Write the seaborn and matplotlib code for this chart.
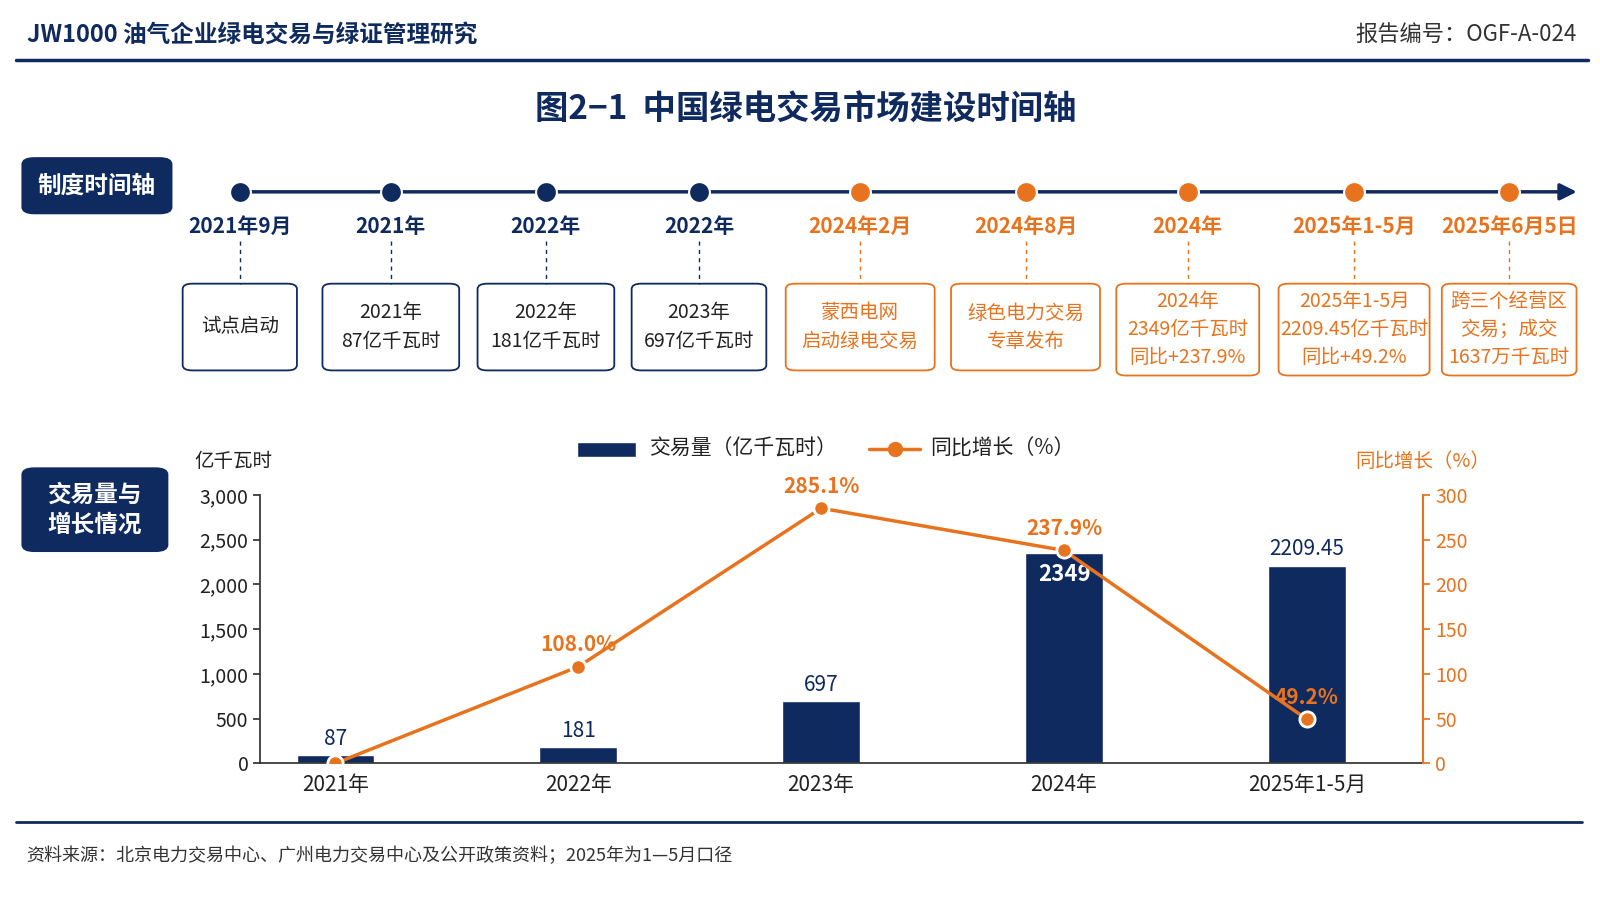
import matplotlib
matplotlib.use("Agg")
import matplotlib.pyplot as plt
import seaborn as sns
import pandas as pd
from matplotlib.patches import FancyBboxPatch, FancyArrowPatch

sns.set_theme(style="white")
plt.rcParams['font.family'] = ['Noto Sans CJK SC', 'DejaVu Sans']

NAVY = "#0f2a5f"
ORANGE = "#e8731e"

timeline_dates = ["2021年9月", "2021年", "2022年", "2022年", "2024年2月", "2024年8月", "2024年", "2025年1-5月", "2025年6月5日"]
timeline_texts = ["试点启动", "2021年\n87亿千瓦时", "2022年\n181亿千瓦时", "2023年\n697亿千瓦时",
                  "蒙西电网\n启动绿电交易", "绿色电力交易\n专章发布", "2024年\n2349亿千瓦时\n同比+237.9%",
                  "2025年1-5月\n2209.45亿千瓦时\n同比+49.2%", "跨三个经营区\n交易；成交\n1637万千瓦时"]
timeline_orange = [False, False, False, False, True, True, True, True, True]
timeline_x = [235, 383, 535, 685, 843, 1005, 1164, 1327, 1479]
box_w = [112, 134, 134, 132, 146, 146, 140, 148, 132]

years = ["2021年", "2022年", "2023年", "2024年", "2025年1-5月"]
volume = [87, 181, 697, 2349, 2209.45]
growth = [0, 108.0, 285.1, 237.9, 49.2]
vol_labels = ["87", "181", "697", "2349", "2209.45"]
growth_labels = ["", "108.0%", "285.1%", "237.9%", "49.2%"]

W, H = 1568, 882
fig = plt.figure(figsize=(16, 9), dpi=100)
fig.patch.set_facecolor("white")

def fx(x): return x / W
def fy(y): return 1 - y / H

def txt(x, y, s, **kw):
    fig.text(fx(x), fy(y), s, **kw)

# header
txt(26, 34, "JW1000 油气企业绿电交易与绿证管理研究", fontsize=17, fontweight="bold", color=NAVY, va="center")
txt(1545, 34, "报告编号：OGF-A-024", fontsize=16, color="#333333", va="center", ha="right")
fig.add_artist(plt.Line2D([fx(16), fx(1556)], [fy(59), fy(59)], color=NAVY, lw=2.5))
txt(790, 108, "图2−1  中国绿电交易市场建设时间轴", fontsize=24, fontweight="bold", color=NAVY, ha="center", va="center")

def tag(x0, y0, w, h, s):
    fig.add_artist(FancyBboxPatch((fx(x0), fy(y0 + h)), w / W, h / H,
                                  boxstyle="round,pad=0,rounding_size=0.008", transform=fig.transFigure,
                                  facecolor=NAVY, edgecolor="none"))
    txt(x0 + w / 2, y0 + h / 2, s, fontsize=17, fontweight="bold", color="white", ha="center", va="center", linespacing=1.3)

tag(21, 154, 148, 56, "制度时间轴")
tag(21, 458, 144, 83, "交易量与\n增长情况")

# timeline
ty = 188
fig.add_artist(FancyArrowPatch((fx(235), fy(ty)), (fx(1548), fy(ty)), transform=fig.transFigure,
                               arrowstyle="-|>,head_length=10,head_width=5", color=NAVY, lw=2.5, mutation_scale=1))
for x, d, t, o, bw in zip(timeline_x, timeline_dates, timeline_texts, timeline_orange, box_w):
    c = ORANGE if o else NAVY
    fig.add_artist(plt.Line2D([fx(x)], [fy(ty)], marker="o", markersize=15, color=c, markeredgecolor="white", markeredgewidth=1.5))
    txt(x, 222, d, fontsize=15, fontweight="bold", color=c, ha="center", va="center")
    fig.add_artist(plt.Line2D([fx(x), fx(x)], [fy(236), fy(278)], color=c, lw=1, ls=(0, (3, 3))))
    bh = 90 if t.count("\n") == 2 else 85
    top = 278
    fig.add_artist(FancyBboxPatch((fx(x - bw / 2), fy(top + bh)), bw / W, bh / H,
                                  boxstyle="round,pad=0,rounding_size=0.006", transform=fig.transFigure,
                                  facecolor="white", edgecolor=c, lw=1.3))
    txt(x, top + bh / 2, t, fontsize=14, color=c if o else "#222222", ha="center", va="center", linespacing=1.45)

# chart
ax = fig.add_axes([fx(255), fy(748), (1395 - 255) / W, (748 - 485) / H])
df = pd.DataFrame({"year": years, "volume": volume, "growth": growth})
sns.barplot(data=df, x="year", y="volume", color=NAVY, width=0.32, ax=ax, saturation=1)
ax.set_ylim(0, 3000)
ax.set_yticks(range(0, 3001, 500))
ax.set_yticklabels([f"{v:,}" for v in range(0, 3001, 500)], fontsize=14, color="#222222")
ax.set_xlabel(""); ax.set_ylabel("")
ax.tick_params(axis="x", labelsize=15, colors="#222222", length=0, pad=8)
ax.tick_params(axis="y", length=5, left=True, color="#333333")
for s in ["top", "right"]:
    ax.spines[s].set_visible(False)
for s in ["left", "bottom"]:
    ax.spines[s].set_color("#333333")
for i, (v, l) in enumerate(zip(volume, vol_labels)):
    if i == 3:
        ax.text(i, v - 110, l, ha="center", va="top", color="white", fontsize=16, fontweight="bold")
    else:
        ax.text(i, v + 60, l, ha="center", va="bottom", color=NAVY, fontsize=15)

ax2 = ax.twinx()
sns.lineplot(x=list(range(len(years))), y=growth, ax=ax2, color=ORANGE, lw=2.5, marker="o",
             markersize=11, markerfacecolor=ORANGE, markeredgecolor="white", markeredgewidth=2)
ax2.set_ylim(0, 300)
ax2.set_yticks(range(0, 301, 50))
ax2.tick_params(axis="y", labelsize=14, labelcolor=ORANGE, color=ORANGE, length=5, right=True)
for s in ["top", "left", "bottom"]:
    ax2.spines[s].set_visible(False)
ax2.spines["right"].set_color(ORANGE)
ax2.spines["right"].set_linewidth(1.5)
for i, (g, l) in enumerate(zip(growth, growth_labels)):
    if l:
        ax2.text(i, g + 13, l, ha="center", va="bottom", color=ORANGE, fontsize=15, fontweight="bold")
for a in (ax, ax2):
    a.set_xlim(-0.31, 4.48)

txt(190, 452, "亿千瓦时", fontsize=14, color="#222222", va="center")
txt(1460, 452, "同比增长（%）", fontsize=14, color=ORANGE, va="center", ha="right")

# legend
fig.add_artist(plt.Rectangle((fx(565), fy(448)), 58 / W, 15 / H, transform=fig.transFigure, facecolor=NAVY))
txt(636, 440, "交易量（亿千瓦时）", fontsize=15, color="#222222", va="center")
fig.add_artist(plt.Line2D([fx(852), fx(902)], [fy(440), fy(440)], color=ORANGE, lw=2.5))
fig.add_artist(plt.Line2D([fx(877)], [fy(440)], marker="o", markersize=10, color=ORANGE))
txt(912, 440, "同比增长（%）", fontsize=15, color="#222222", va="center")

# footer
fig.add_artist(plt.Line2D([fx(16), fx(1550)], [fy(806), fy(806)], color=NAVY, lw=2))
txt(26, 839, "资料来源：北京电力交易中心、广州电力交易中心及公开政策资料；2025年为1—5月口径", fontsize=13, color="#333333", va="center")

fig.savefig("out.png", dpi=100, facecolor="white")
